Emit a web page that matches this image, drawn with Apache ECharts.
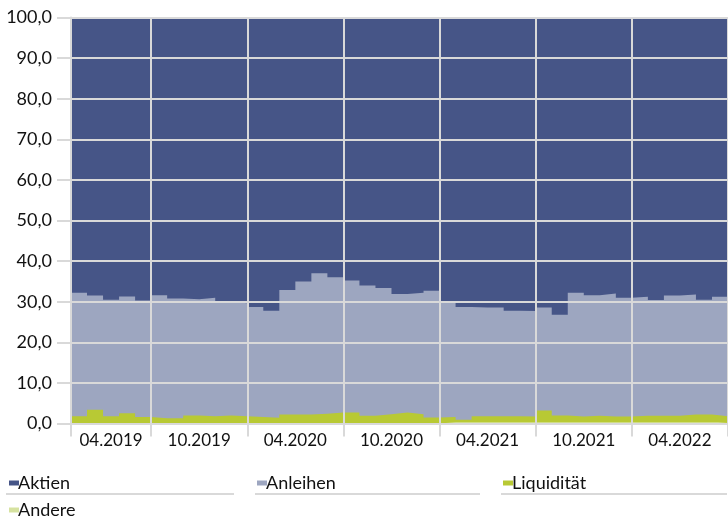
<!DOCTYPE html>
<html>
<head>
<meta charset="utf-8">
<script src="https://cdn.jsdelivr.net/npm/echarts@6/dist/echarts.min.js"></script>
<style>html,body{margin:0;padding:0;background:#fff;}#c{width:728px;height:517px;}</style>
</head>
<body>
<div id="c"></div>
<script>
// Month starts (categories), Feb 2019 .. Jun 2022, plus the boundary after the last month
const months = ['2019-02','2019-03','2019-04','2019-05','2019-06','2019-07','2019-08','2019-09','2019-10','2019-11','2019-12',
  '2020-01','2020-02','2020-03','2020-04','2020-05','2020-06','2020-07','2020-08','2020-09','2020-10','2020-11','2020-12',
  '2021-01','2021-02','2021-03','2021-04','2021-05','2021-06','2021-07','2021-08','2021-09','2021-10','2021-11','2021-12',
  '2022-01','2022-02','2022-03','2022-04','2022-05','2022-06'];
const endBoundary = '2022-07';
const tickLabels = ['04.2019','10.2019','04.2020','10.2020','04.2021','10.2021','04.2022'];
const yTickValues = [0,10,20,30,40,50,60,70,80,90,100];
const seriesNames = ['Aktien', 'Anleihen', 'Liquidität', 'Andere'];

const aktien = [67.8,68.5,69.5,68.7,69.7,68.4,69.2,69.4,69.0,70.0,70.4,71.3,72.2,67.1,65.0,63.0,64.0,64.8,66.0,66.6,68.1,67.8,67.3,70.1,71.3,71.4,71.4,72.2,72.3,71.4,73.2,67.8,68.4,68.0,69.0,68.8,69.6,68.5,68.2,69.5,68.8];
const anleihen = [30.4,28.1,28.7,28.8,28.7,30.3,29.5,28.6,29.2,28.0,27.8,27.1,26.4,30.7,32.8,34.6,33.3,32.5,32.1,31.1,29.2,29.9,31.2,28.3,27.8,26.8,26.8,26.0,26.0,25.4,24.8,30.5,29.7,30.3,29.3,29.3,28.5,29.6,29.6,28.3,29.4];
const liquiditaet = [1.8,3.4,1.8,2.5,1.6,1.3,1.3,2.0,1.8,2.0,1.8,1.6,1.4,2.2,2.2,2.4,2.7,2.7,1.9,2.3,2.7,2.3,1.5,1.3,0.6,1.5,1.5,1.5,1.4,2.9,1.7,1.4,1.6,1.4,1.4,1.6,1.6,1.6,1.9,1.9,1.5];
const andere = [0,0,0,0,0,0,0,0,0,0,0,0,0,0,0,0,0,0,0,0,0,0,0,0.3,0.3,0.3,0.3,0.3,0.3,0.3,0.3,0.3,0.3,0.3,0.3,0.3,0.3,0.3,0.3,0.3,0.3];

const FONT = 'Lato';
const FS = 18;
const TXT = '#111111';
const GRID = '#d9d9d9';
const COLORS = ['#465587', '#9da6c0', '#b8c934', '#d6e2a0'];
const N = months.length;
const boundaryCats = months.concat([endBoundary]);

// half-year boundaries: months starting with 01 or 07
const bounds = [0];
months.forEach((m, i) => { if (i > 0 && (m.endsWith('-01') || m.endsWith('-07'))) bounds.push(i); });
bounds.push(N);
const centers = [];
for (let i = 0; i < bounds.length - 1; i++) centers.push((bounds[i] + bounds[i + 1]) / 2);

// cumulative tops (stack order bottom -> top: Andere, Liquidität, Anleihen, Aktien)
const layers = [andere, liquiditaet, anleihen, aktien];
const tops = [];
let acc = new Array(N).fill(0);
layers.forEach(arr => {
  acc = acc.map((a, i) => Math.round((a + arr[i]) * 100) / 100);
  tops.push(acc.slice());
});

function mk(name, top, color) {
  return {
    name, type: 'line', step: 'end', xAxisIndex: 0,
    data: top.concat([top[top.length - 1]]),
    showSymbol: false, symbol: 'none',
    lineStyle: { width: 0, color }, itemStyle: { color },
    areaStyle: { color, opacity: 1, origin: 'start' }, emphasis: { disabled: true }
  };
}
function lg(name, left, top) {
  return { data: [name], left, top, orient: 'horizontal', icon: 'rect', itemWidth: 10, itemHeight: 5,
    textStyle: { fontFamily: FONT, fontSize: FS, color: TXT, padding: [0, 0, 0, -6] } };
}

const chart = echarts.init(document.getElementById('c'), null, { renderer: 'canvas' });
chart.setOption({
  animation: false,
  textStyle: { fontFamily: FONT },
  grid: { left: 71, right: -5, top: 17.5, bottom: 93.5, containLabel: false },
  xAxis: [
    { type: 'category', data: boundaryCats, boundaryGap: false, show: false },
    {
      type: 'value', min: 0, max: N, z: 5, position: 'bottom',
      axisLine: { show: true, lineStyle: { color: GRID, width: 2 } },
      axisTick: { show: true, length: 13, customValues: bounds, lineStyle: { color: GRID, width: 2 } },
      splitLine: { show: true, lineStyle: { color: GRID, width: 2 } },
      axisLabel: {
        customValues: centers, margin: 9, color: TXT, fontSize: 17, fontFamily: FONT,
        formatter: v => tickLabels[centers.indexOf(v)] || ''
      }
    }
  ],
  yAxis: {
    type: 'value', min: 0, max: 100, interval: 10, z: 5,
    axisLine: { show: true, lineStyle: { color: GRID, width: 2 } },
    axisTick: { show: true, length: 14, lineStyle: { color: GRID, width: 2 } },
    splitLine: { show: true, lineStyle: { color: GRID, width: 2 } },
    axisLabel: {
      margin: 19, color: TXT, fontSize: FS, fontFamily: FONT,
      formatter: v => yTickValues.includes(v) ? v.toFixed(1).replace('.', ',') : ''
    }
  },
  legend: [
    lg(seriesNames[0], 4, 469),
    lg(seriesNames[1], 252, 469),
    lg(seriesNames[2], 498, 469),
    lg(seriesNames[3], 4, 496)
  ],
  graphic: [
    { type: 'line', z: 100, shape: { x1: 6, y1: 494, x2: 234, y2: 494 }, style: { stroke: GRID, lineWidth: 2 } },
    { type: 'line', z: 100, shape: { x1: 255, y1: 494, x2: 480, y2: 494 }, style: { stroke: GRID, lineWidth: 2 } },
    { type: 'line', z: 100, shape: { x1: 501, y1: 494, x2: 727, y2: 494 }, style: { stroke: GRID, lineWidth: 2 } }
  ],
  series: [
    mk(seriesNames[0], tops[3], COLORS[0]),
    mk(seriesNames[1], tops[2], COLORS[1]),
    mk(seriesNames[2], tops[1], COLORS[2]),
    mk(seriesNames[3], tops[0], COLORS[3])
  ]
});
</script>
</body>
</html>
